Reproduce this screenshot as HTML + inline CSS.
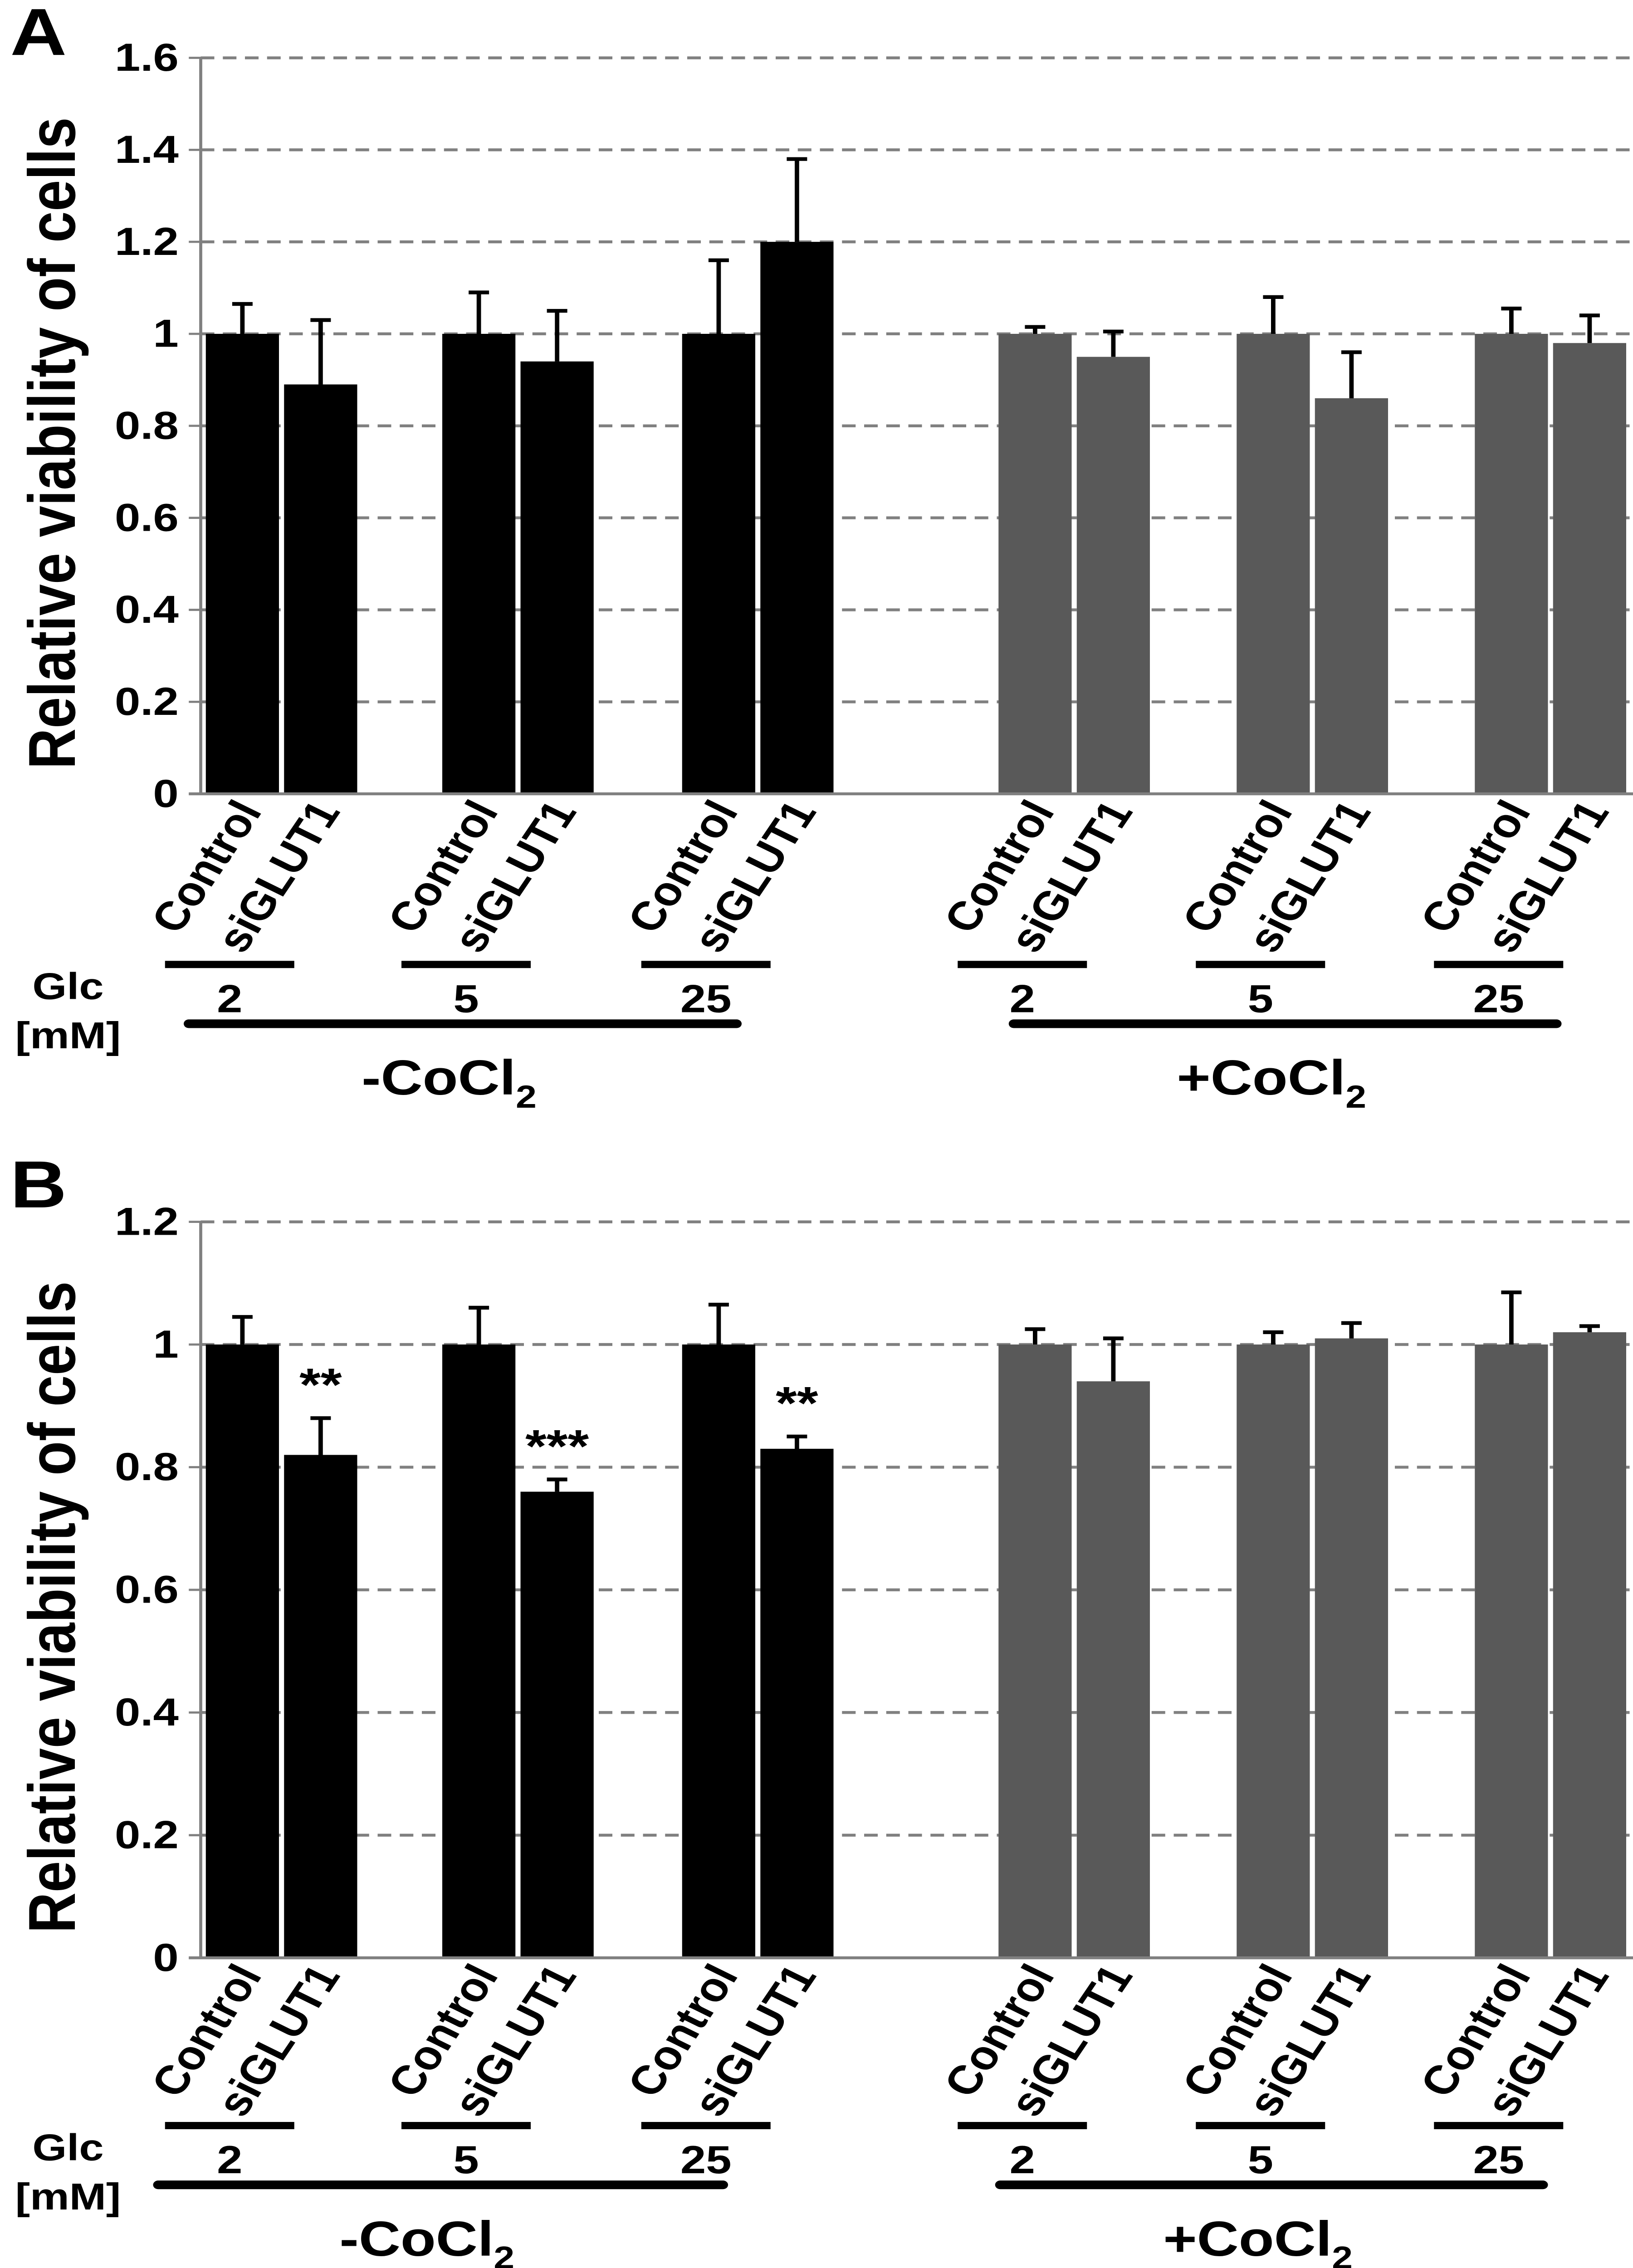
<!DOCTYPE html>
<html><head><meta charset="utf-8"><style>
html,body{margin:0;padding:0;background:#fff;width:100%;height:100%;overflow:hidden;}
svg{display:block;width:100vw;height:100vh;}
text{font-family:"Liberation Sans",Arial,sans-serif;font-weight:bold;fill:#000;}
</style></head><body>
<svg id="fig" viewBox="0 0 960 1568.5" preserveAspectRatio="none" xmlns="http://www.w3.org/2000/svg"></svg>
<script>
const categories = ["Control","siGLUT1","Control","siGLUT1","Control","siGLUT1","Control","siGLUT1","Control","siGLUT1","Control","siGLUT1"];
const glcLevels = ["2","5","25","2","5","25"];
const valuesA = [1,0.89,1,0.94,1,1.2,1,0.95,1,0.86,1,0.98];
const errTopA = [1.065,1.03,1.09,1.05,1.16,1.38,1.015,1.005,1.08,0.96,1.055,1.04];
const ticksA = ["0","0.2","0.4","0.6","0.8","1","1.2","1.4","1.6"];
const valuesB = [1,0.82,1,0.76,1,0.83,1,0.94,1,1.01,1,1.02];
const errTopB = [1.045,0.88,1.06,0.78,1.065,0.85,1.025,1.01,1.02,1.035,1.085,1.03];
const sigB = ["","**","","***","","**","","","","","",""];
const ticksB = ["0","0.2","0.4","0.6","0.8","1","1.2"];

const NS="http://www.w3.org/2000/svg";
const svg=document.getElementById('fig');
function mk(tag,attrs,parent){const e=document.createElementNS(NS,tag);for(const k in attrs)e.setAttribute(k,attrs[k]);(parent||svg).appendChild(e);return e;}
const barLeft=[121,167,260,306,401,447,587,633,727,773,867,913];
const barW=43;

function panel(p){
  const g=mk('g',{});
  
  
  const y=v=>p.y0-(v/p.max)*(p.y0-p.yTop);
  const L=mk('text',{x:6,y:p.letterY,'font-size':46},g);L.textContent=p.id.toUpperCase();
  
  
  p.ticks.forEach(t=>{
    const v=parseFloat(t),yy=y(v);
    if(v>0){const gl=mk('line',{x1:118,x2:960,y1:yy,y2:yy,stroke:'#808080','stroke-width':2,'stroke-dasharray':'8,5'},g);
      
      }
    const tk=mk('line',{x1:111,x2:118,y1:yy,y2:yy,stroke:'#808080','stroke-width':1.5},g);
    
    
    const tl=mk('text',{x:105,y:yy+9,'font-size':27,'text-anchor':'end'},g);tl.textContent=t;
    
    
  });
  p.vals.forEach((v,i)=>{
    const x=barLeft[i],col=i<6?'#000':'#595959';
    const b=mk('rect',{x:x,y:y(v),width:barW,height:p.y0-y(v),fill:col},g);
    
    
    const cx=x+barW/2;
    const e=mk('path',{d:`M${cx},${y(v)}V${y(p.err[i])}M${cx-6},${y(p.err[i])}H${cx+6}`,stroke:'#000','stroke-width':2.6,fill:'none'},g);
    
    
    if(p.sig&&p.sig[i]){const s=mk('text',{x:cx,y:y(p.err[i])-12,'font-size':32,'text-anchor':'middle'},g);s.textContent=p.sig[i];
      
      }
    const lbl=mk('text',{x:0,y:0,'font-size':28,'text-anchor':'end',transform:`translate(${cx+12},${p.y0+12}) rotate(-60)`},g);
    lbl.textContent=categories[i];
    
    
  });
  const ax=mk('line',{x1:118,x2:118,y1:p.yTop,y2:p.y0,stroke:'#808080','stroke-width':1.8},g);
  
  
  const xa=mk('line',{x1:111,x2:960,y1:p.y0,y2:p.y0,stroke:'#808080','stroke-width':2},g);
  
  
  const yt=mk('text',{x:0,y:0,'font-size':39,'text-anchor':'middle',transform:`translate(44,${(p.y0+p.yTop)/2+12}) rotate(-90)`},g);
  yt.textContent='Relative viability of cells';
  
  
  for(let k=0;k<6;k++){
    const x1=barLeft[2*k]-24, x2=barLeft[2*k+1]+6;
    const gl=mk('rect',{x:x1,y:p.glcY-2.5,width:x2-x1,height:5,fill:'#000'},g);
    
    
    const n=mk('text',{x:(x1+x2)/2,y:p.glcY+33,'font-size':27,'text-anchor':'middle'},g);n.textContent=glcLevels[k];
    
    
  }
  const gt=mk('text',{x:40,y:p.glcY+24,'font-size':26,'text-anchor':'middle'},g);gt.textContent='Glc';
  
  
  const mm=mk('text',{x:40,y:p.glcY+58,'font-size':26,'text-anchor':'middle'},g);mm.textContent='[mM]';
  
  
  [[p.big[0],p.big[1],'-CoCl'],[p.big[2],p.big[3],'+CoCl']].forEach(([a,b,t],j)=>{
    const r=mk('rect',{x:a,y:p.glcY+38,width:b-a,height:6,rx:3,fill:'#000'},g);
    
    
    const tx=mk('text',{x:(a+b)/2-8,y:p.glcY+90,'font-size':34,'text-anchor':'middle'},g);
    tx.textContent=t;
    const sub=mk('tspan',{'font-size':22,dy:9},tx);sub.textContent='2';
    
    
  });
}
panel({id:'a',y0:549,yTop:40,max:1.6,ticks:ticksA,vals:valuesA,err:errTopA,sig:null,letterY:38,glcY:667,big:[108,436,593,918]});
panel({id:'b',y0:1354,yTop:845,max:1.2,ticks:ticksB,vals:valuesB,err:errTopB,sig:sigB,letterY:835,glcY:1470,big:[90,428,585,910]});
</script>
</body></html>
